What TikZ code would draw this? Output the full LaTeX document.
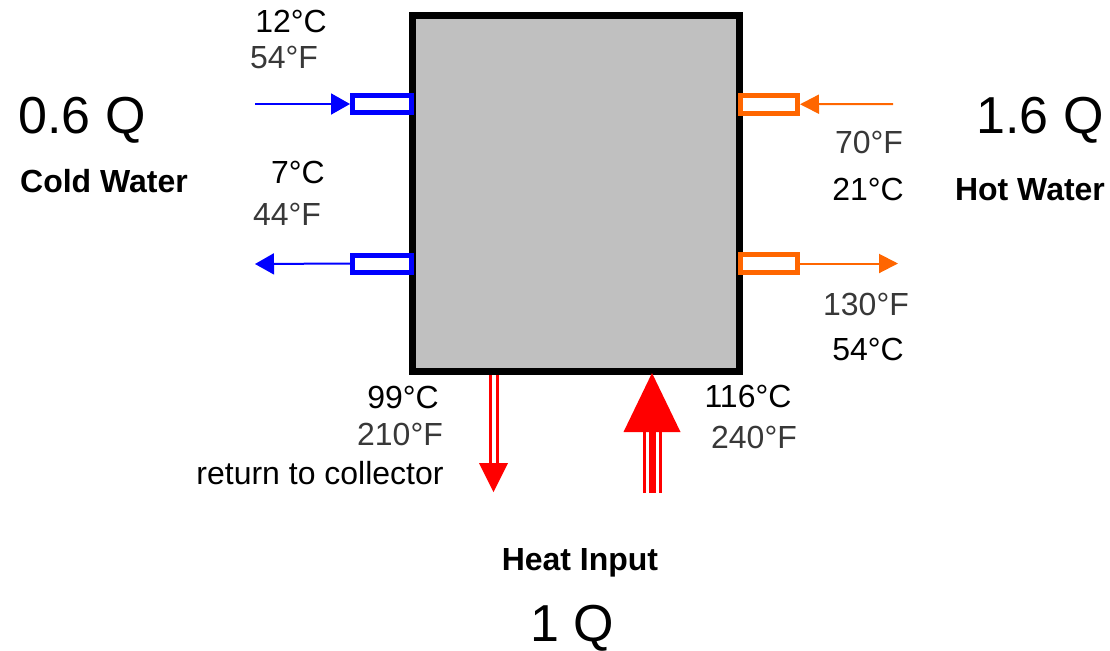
\documentclass[tikz,border=0pt]{standalone}
\usepackage{fontspec}
\setmainfont{Liberation Sans}
\usetikzlibrary{positioning,arrows.meta,calc}
\definecolor{ColdBlue}{RGB}{0,0,255}
\definecolor{HotOrange}{RGB}{255,102,0}
\definecolor{TankGray}{RGB}{192,192,192}
\definecolor{FahrGray}{RGB}{56,56,56}

\begin{document}
\begin{tikzpicture}[x=0.02cm, y=-0.02cm,
  every node/.style={font=\fontsize{18.2}{20}\selectfont, inner sep=0pt},
  degC/.style={anchor=base},
  degF/.style={anchor=base, text=FahrGray},
  flow/.style={anchor=base, font=\fontsize{29.6}{32}\selectfont},
  stream/.style={anchor=base, font=\fontsize{18.2}{20}\selectfont\bfseries},
  cport/.style={draw=ColdBlue, line width=0.1cm, fill=white, minimum width=1.18cm, minimum height=0.34cm},
  hport/.style={draw=HotOrange, line width=0.1cm, fill=white, minimum width=1.15cm, minimum height=0.35cm},
  coldline/.style={ColdBlue, line width=0.04cm, -{Triangle[length=0.38cm, width=0.42cm]}},
  hotline/.style={HotOrange, line width=0.04cm, -{Triangle[length=0.38cm, width=0.38cm]}},
  redline/.style={red, line width=0.06cm}]
  \useasboundingbox (0,0) rectangle (1110,650);

  % tank
  \node[draw, line width=0.14cm, fill=TankGray, minimum width=6.56cm,
        minimum height=7.14cm] (tank) at (576,193.5) {};

  % water ports
  \node[cport] (cin) at (382,104) {};
  \node[cport] (cout) at (382,263.5) {};
  \node[hport] (hin) at (768.75,104.25) {};
  \node[hport] (hout) at (768.75,263.5) {};
  \coordinate (cfrom) at (255,104);
  \coordinate (cto) at (255,264);
  \coordinate (hfrom) at (893,104);
  \coordinate (hto) at (898,263.5);
  \draw[coldline] (cfrom) -- (cin.west);
  \draw[coldline] (cout.west) -- (cto);
  \draw[hotline] (hfrom) -- (hin.east);
  \draw[hotline] (hout.east) -- (hto);

  % collector loop
  \coordinate (ret) at (493.5,375);
  \coordinate (retend) at (493.5,492);
  \draw[redline] ($(ret)+(-3.5,0)$) -- ($(retend)+(-3.5,-29)$);
  \draw[redline] ($(ret)+(3.5,0)$) -- ($(retend)+(3.5,-29)$);
  \fill[red] ($(retend)+(-14.5,-29)$) -- ($(retend)+(14.5,-29)$) -- (retend) -- cycle;
  \coordinate (heat) at (652,373);
  \coordinate (heatsrc) at (652,493);
  \draw[redline] ($(heatsrc)+(-8,0)$) -- ($(heat)+(-8,59)$);
  \draw[redline] ($(heatsrc)+(8,0)$) -- ($(heat)+(8,59)$);
  \draw[red, line width=0.14cm] (heatsrc) -- ($(heat)+(0,59)$);
  \fill[red] (heat) -- ($(heat)+(-28.5,59)$) -- ($(heat)+(28.5,59)$) -- cycle;

  % labels
  \node[flow] (qcold) at (82,133) {0.6 Q};
  \node[stream] (cold) at (104,192) {Cold Water};
  \node[flow] (qhot) at (1040,133) {1.6 Q};
  \node[stream] (hot) at (1030,200) {Hot Water};
  \node[stream] (heatlbl) at (580,570) {Heat Input};
  \node[flow] (qheat) at (572,641) {1 Q};

  \node[degC] (cinC) at (291,32) {12°C};
  \node[degF] (cinF) at (284,68) {54°F};
  \node[degC] (coutC) at (298,183) {7°C};
  \node[degF] (coutF) at (287,225) {44°F};
  \node[degF] (hinF) at (869,153) {70°F};
  \node[degC] (hinC) at (868,200) {21°C};
  \node[degF] (houtF) at (866,315) {130°F};
  \node[degC] (houtC) at (868,360) {54°C};
  \node[degC] (retC) at (403,408) {99°C};
  \node[degF] (retF) at (400,445) {210°F};
  \node[anchor=base] (retlbl) at (320,484) {return to collector};
  \node[degC] (heatC) at (748,407) {116°C};
  \node[degF] (heatF) at (754,448) {240°F};
\end{tikzpicture}
\end{document}
